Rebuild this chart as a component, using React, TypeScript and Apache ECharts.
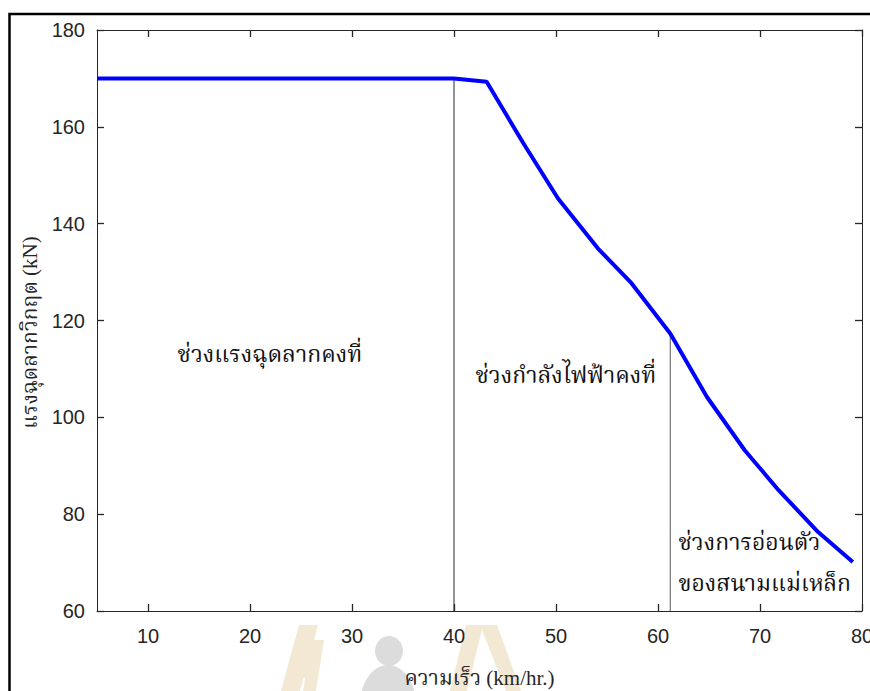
import React, { useEffect, useRef } from "react";
import * as echarts from "echarts";

const speed = [5, 40, 43.2, 46.8, 50.2, 54.1, 57.4, 61.2, 64.8, 68.5, 71.8, 75.7, 79.1];
const force = [170, 170, 169.3, 156.6, 145.2, 134.9, 127.7, 117.3, 104.2, 93.2, 85.0, 76.3, 70.1];
const xTicks = [10, 20, 30, 40, 50, 60, 70, 80];
const boundaryX = [40, 61.2];
const boundaryTop = [170, 117.3];
const annotations = [
  { text: "ช่วงแรงฉุดลากคงที่", x: 12.9, y: 112.9 },
  { text: "ช่วงกำลังไฟฟ้าคงที่", x: 42.1, y: 108.7 },
  { text: "ช่วงการอ่อนตัว", x: 62.0, y: 74.2 },
  { text: "ของสนามแม่เหล็ก", x: 62.0, y: 65.7 },
];
const xTitle = "ความเร็ว (km/hr.)";
const yTitle = "แรงฉุดลากวิกฤต (kN)";

const AXIS = "#262626";
const SERIF = "'Liberation Serif', 'DejaVu Serif', 'Noto Serif Thai', serif";
const SANS = "'Liberation Sans', Arial, sans-serif";

export default function App() {
  const ref = useRef<HTMLDivElement>(null);
  useEffect(() => {
    document.body.style.margin = "0";
    const chart = echarts.init(ref.current!, undefined, { renderer: "svg" });
    const axisLine = { show: true, lineStyle: { color: AXIS, width: 1 } };
    const tick = { show: true, inside: true, length: 7, lineStyle: { color: AXIS, width: 1.3 } };
    chart.setOption({
      animation: false,
      backgroundColor: "#ffffff",
      grid: { left: 97, right: 8, top: 30, bottom: 80, containLabel: false, outerBoundsMode: "none" },
      xAxis: [
        {
          type: "value",
          min: 5,
          max: 80,
          position: "bottom",
          axisLine,
          axisTick: { ...tick, customValues: xTicks },
          axisLabel: {
            customValues: xTicks,
            color: AXIS,
            fontSize: 20,
            fontFamily: SANS,
            margin: 15,
          },
          splitLine: { show: false },
          name: xTitle,
          nameLocation: "middle",
          nameGap: 56,
          nameTextStyle: { fontFamily: SERIF, fontSize: 21, color: AXIS },
        },
        {
          type: "value",
          min: 5,
          max: 80,
          position: "top",
          axisLine,
          axisTick: { ...tick, customValues: xTicks },
          axisLabel: { show: false },
          splitLine: { show: false },
        },
      ],
      yAxis: [
        {
          type: "value",
          min: 60,
          max: 180,
          interval: 20,
          position: "left",
          axisLine,
          axisTick: tick,
          axisLabel: { color: AXIS, fontSize: 20, fontFamily: SANS, margin: 12 },
          splitLine: { show: false },
          name: yTitle,
          nameLocation: "middle",
          nameGap: 54,
          nameRotate: 90,
          nameTextStyle: { fontFamily: SERIF, fontSize: 21, color: AXIS, padding: [0, 24, 0, 0] },
        },
        {
          type: "value",
          min: 60,
          max: 180,
          interval: 20,
          position: "right",
          axisLine,
          axisTick: tick,
          axisLabel: { show: false },
          splitLine: { show: false },
        },
      ],
      series: [
        {
          type: "line",
          data: [[boundaryX[0], boundaryTop[0]], [boundaryX[0], 60]],
          symbol: "none",
          lineStyle: { color: AXIS, width: 1 },
          z: 1,
        },
        {
          type: "line",
          data: [[boundaryX[1], boundaryTop[1]], [boundaryX[1], 60]],
          symbol: "none",
          lineStyle: { color: "#555555", width: 1 },
          z: 1,
        },
        {
          type: "line",
          data: speed.map((s, i) => [s, force[i]]),
          symbol: "none",
          lineStyle: { color: "#0000ff", width: 4 },
          z: 3,
        },
      ],
    });

    const texts = annotations.map((a) => {
      const p = chart.convertToPixel({ gridIndex: 0 }, [a.x, a.y]) as number[];
      return {
        type: "text",
        x: p[0],
        y: p[1],
        z: 10,
        style: {
          text: a.text,
          fill: "#111111",
          font: `23px ${SERIF}`,
          verticalAlign: "middle",
          align: "left",
        },
      };
    });

    const beige = "#f3e8d3";
    const gray = "#dcdcdc";
    chart.setOption({
      graphic: [
        { type: "rect", shape: { x: 9.5, y: 14, width: 1000, height: 1000 }, style: { fill: "none", stroke: "#000", lineWidth: 2.5 }, z: 20 },
        { type: "polygon", shape: { points: [[281, 691], [300, 691], [318, 625], [299, 625]] }, style: { fill: beige }, z: -1 },
        { type: "polygon", shape: { points: [[303, 691], [316, 691], [324, 640], [311, 640]] }, style: { fill: beige }, z: -1 },
        { type: "polygon", shape: { points: [[293, 666], [310, 666], [307, 678], [290, 678]] }, style: { fill: beige }, z: -1 },
        { type: "polygon", shape: { points: [[450, 691], [467, 691], [483, 625], [466, 625]] }, style: { fill: beige }, z: -1 },
        { type: "polygon", shape: { points: [[480, 625], [497, 625], [521, 691], [506, 691]] }, style: { fill: beige }, z: -1 },
        { type: "ellipse", shape: { cx: 389, cy: 651, rx: 14, ry: 15 }, style: { fill: gray }, z: -1 },
        { type: "ellipse", shape: { cx: 388, cy: 705, rx: 28, ry: 40 }, style: { fill: gray }, z: -1 },
        ...texts,
      ],
    });
    return () => chart.dispose();
  }, []);
  return (
    <div
      ref={ref}
      style={{ position: "fixed", left: 0, top: 0, width: 870, height: 691, background: "#fff" }}
    />
  );
}
